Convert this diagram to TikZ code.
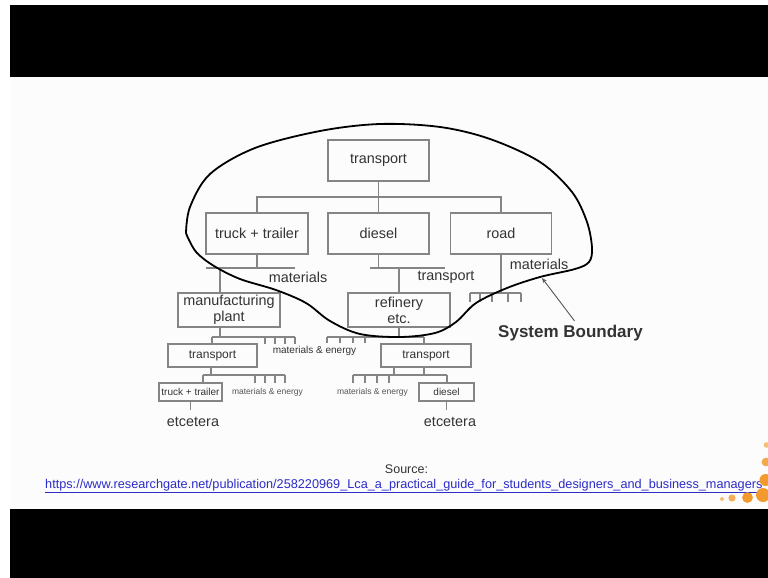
\documentclass[tikz,border=0pt]{standalone}
\usepackage{fontspec}
\setmainfont{Liberation Sans}
\usetikzlibrary{arrows.meta}
\definecolor{boxgray}{HTML}{858585}
\definecolor{inkgray}{HTML}{333333}
\definecolor{lightink}{HTML}{555555}
\definecolor{linkblue}{HTML}{2C2CC8}
\definecolor{slidebg}{HTML}{FCFCFC}
\definecolor{dotorange}{HTML}{F29A2E}
\definecolor{dotlight}{HTML}{F6BE72}
\begin{document}
\begin{tikzpicture}[x=1pt,y=-1pt,
  bx/.style={draw=boxgray, line width=1.1pt, inner sep=0pt, text=inkgray, align=center},
  ln/.style={draw=boxgray, line width=1.1pt},
  lbl/.style={text=inkgray, inner sep=0pt},
  fa/.style={font=\fontsize{14.4}{16}\selectfont},
  fb/.style={font=\fontsize{12}{14}\selectfont},
  fc/.style={font=\fontsize{10}{12}\selectfont},
  fd/.style={font=\fontsize{8.5}{10}\selectfont, text=lightink},
  boundary/.style={draw=black, line width=1.8pt, line join=round},
  dot/.style={fill=dotorange, draw=none}]
\useasboundingbox (0,0) rectangle (768,578);
\clip (0,0) rectangle (768,578);
% frame: white margin, slide area and black bars
\fill[white] (0,0) rectangle (768,578);
\fill[slidebg] (10,77) rectangle (768,509);
\fill[black] (10,5) rectangle (768,77);
\fill[black] (10,509) rectangle (768,578);

% process boxes
\node[bx,fa,minimum width=101pt,minimum height=41pt] (top) at (378.5,160.5) {transport};
\node[bx,fa,minimum width=102pt,minimum height=41pt] (tt) at (257,233.5) {truck + trailer};
\node[bx,fa,minimum width=101pt,minimum height=41pt] (di) at (378.5,233.5) {diesel};
\node[bx,fa,minimum width=101pt,minimum height=41pt] (rd) at (501,233.5) {road};
\node[bx,fa,minimum width=102pt,minimum height=34pt] (mp) at (229,310) {manufacturing\\plant};
\node[bx,fa,minimum width=102pt,minimum height=34pt] (rf) at (399,310) {refinery\\etc.};
\node[bx,fb,minimum width=89pt,minimum height=23pt] (tl) at (212.5,355.5) {transport};
\node[bx,fb,minimum width=90pt,minimum height=23pt] (tr) at (426,355.5) {transport};
\node[bx,fc,minimum width=63pt,minimum height=18pt] (tts) at (190.5,392) {truck + trailer};
\node[bx,fc,minimum width=55pt,minimum height=18pt] (ds) at (446.5,392) {diesel};
\node[lbl,fa] (etl) at (193,421.5) {etcetera};
\node[lbl,fa] (etr) at (450,421.5) {etcetera};

% flow labels
\node[lbl,fa] (m1) at (298,277) {materials};
\node[lbl,fa] (t1) at (446,277) {transport};
\node[lbl,fa] (m2) at (539,264) {materials};
\node[lbl,fc] (me1) at (314.5,351) {materials \& energy};
\node[lbl,fd] (me2) at (267.5,392) {materials \& energy};
\node[lbl,fd] (me3) at (372.5,392) {materials \& energy};

% level 1
\coordinate (bus) at (0,197);
\draw[ln] (top.south) -- (di.north);
\draw[ln] (tt.north) -- (tt.north |- bus) -- (rd.north |- bus) -- (rd.north);

% level 2
\coordinate (a1) at (220,268);
\coordinate (a2) at (399,268);
\coordinate (a3) at (501,293);
\draw[ln] (tt.south) -- (tt.south |- a1);
\draw[ln] (206,268) -- (295,268);
\draw[ln] (a1) -- (a1 |- mp.north);
\draw[ln] (di.south) -- (di.south |- a2);
\draw[ln] (370,268) -- (445,268);
\draw[ln] (a2) -- (rf.north);
\draw[ln] (rd.south) -- (a3);
\draw[ln] (470,293) -- (521,293);
\foreach \x in {470,480,492,508,521} \draw[ln] (\x,293) -- (\x,302);

% level 3
\coordinate (b0) at (220,337);
\coordinate (b1) at (212,337);
\coordinate (b2) at (399,337);
\coordinate (b3) at (424,337);
\draw[ln] (b0 |- mp.south) -- (b0);
\draw[ln] (212,337) -- (295,337);
\foreach \x in {265,275,285,295} \draw[ln] (\x,337) -- (\x,344);
\draw[ln] (b1) -- (b1 |- tl.north);
\draw[ln] (rf.south) -- (b2);
\draw[ln] (327,337) -- (424,337);
\foreach \x in {327,340,353,365} \draw[ln] (\x,337) -- (\x,343);
\draw[ln] (b3) -- (b3 |- tr.north);

% level 4
\coordinate (c0) at (211,375);
\coordinate (c1) at (203,375);
\coordinate (c2) at (394,375);
\coordinate (c3) at (424,375);
\coordinate (c4) at (447,375);
\draw[ln] (c0 |- tl.south) -- (c0);
\draw[ln] (203,375) -- (285,375);
\foreach \x in {255,265,275,285} \draw[ln] (\x,375) -- (\x,383);
\draw[ln] (c1) -- (c1 |- tts.north);
\draw[ln] (tts.south) -- ++(0,8);
\draw[ln] (c2 |- tr.south) -- (c2);
\draw[ln] (c3 |- tr.south) -- (c3);
\draw[ln] (353,375) -- (447,375);
\foreach \x in {353,365,377,389} \draw[ln] (\x,375) -- (\x,383);
\draw[ln] (c4) -- (c4 |- ds.north);
\draw[ln] (ds.south) -- ++(0,8);

% system boundary, with a slight point at its far left
\draw[boundary] plot[smooth, tension=0.55] coordinates {
  (186,233) (190,207) (210,174) (255,148) (320,131) (380,124) (440,127)
  (490,139) (540,162) (572,192) (587,222) (592,248) (589,262) (575,269)
  (540,277) (507,288) (476,303) (456,322) (435,333) (400,337) (360,334)
  (330,321) (306,303) (276,290) (240,279) (214,266) (197,253) (189,240) (186,233)};
\node[lbl,font=\bfseries\fontsize{17}{20}\selectfont] (sb) at (570.5,333) {System Boundary};
\coordinate (sbtip) at (542,278);
\draw[draw=lightink, line width=0.9pt, -{Stealth[length=5pt,width=4pt]}] ([xshift=4pt,yshift=4pt]sb.north) -- (sbtip);

% source reference
\node[lbl,font=\fontsize{12.5}{14}\selectfont] (src) at (406.5,469) {Source:};
\node[anchor=west, inner sep=0pt, font=\fontsize{12.7}{14}\selectfont, text=linkblue] (url) at (45,486)
  {\underline{https://www.researchgate.net/publication/258220969\_Lca\_a\_practical\_guide\_for\_students\_designers\_and\_business\_managers}};

% decorative dots
\fill[dotlight] (722,499) circle (2);
\fill[dotorange!80] (732,498) circle (3.6);
\fill[dot] (747.5,497.5) circle (5.4);
\fill[dot] (763,495) circle (7);
\fill[dotlight] (766.5,445) circle (2.8);
\fill[dotorange!85] (766,462) circle (4.4);
\fill[dot] (765.5,480) circle (6);
\end{tikzpicture}
\end{document}
